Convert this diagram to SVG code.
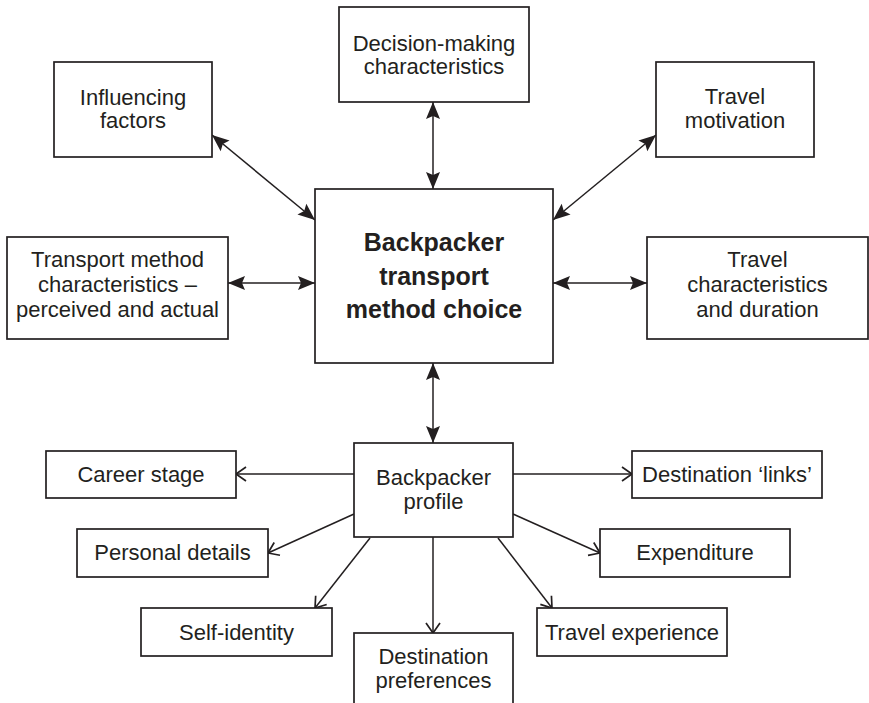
<svg xmlns="http://www.w3.org/2000/svg" width="869" height="703" viewBox="0 0 869 703">
<style>
rect.box{fill:#ffffff;stroke:#231f20;stroke-width:1.7}
text{font-family:"Liberation Sans",Arial,sans-serif;font-size:22px;fill:#231f20;text-anchor:middle}
text.bold{font-weight:bold;font-size:25px}
.conn line{stroke:#231f20;stroke-width:1.5;fill:none}
.bi{marker-start:url(#solid);marker-end:url(#solid)}
.one{marker-end:url(#open)}
</style>
<defs>
<marker id="solid" viewBox="-18 -8 20 16" refX="0" refY="0" markerWidth="20" markerHeight="16" markerUnits="userSpaceOnUse" orient="auto-start-reverse">
<path d="M-17,-7 L0,0 L-17,7 L-14,0 Z" fill="#231f20"/>
</marker>
<marker id="open" viewBox="-12 -9 14 18" refX="0" refY="0" markerWidth="14" markerHeight="18" markerUnits="userSpaceOnUse" orient="auto">
<path d="M-10,-7 L0,0 L-10,7" fill="none" stroke="#231f20" stroke-width="1.7"/>
</marker>
</defs>
<rect width="869" height="703" fill="#ffffff"/>
<g class="conn" id="connectors">
<line class="bi" x1="212" y1="135" x2="315" y2="220"/>
<line class="bi" x1="433" y1="102" x2="433" y2="189"/>
<line class="bi" x1="656" y1="135" x2="553" y2="220"/>
<line class="bi" x1="228" y1="283" x2="315" y2="283"/>
<line class="bi" x1="553" y1="283" x2="647" y2="283"/>
<line class="bi" x1="433" y1="363" x2="433" y2="443"/>
<line class="one" x1="354" y1="474" x2="236" y2="474"/>
<line class="one" x1="354" y1="514" x2="268" y2="553"/>
<line class="one" x1="370" y1="538" x2="315" y2="608"/>
<line class="one" x1="433" y1="537" x2="433" y2="633"/>
<line class="one" x1="513" y1="474" x2="632" y2="474"/>
<line class="one" x1="513" y1="514" x2="600" y2="553"/>
<line class="one" x1="498" y1="538" x2="552" y2="608"/>
</g>
<g id="influencing">
<rect class="box" x="54" y="62" width="158" height="95"/>
<text x="133" y="105">Influencing</text>
<text x="133" y="128">factors</text>
</g>
<g id="decision">
<rect class="box" x="339" y="7" width="190" height="95"/>
<text x="434" y="51">Decision-making</text>
<text x="434" y="74">characteristics</text>
</g>
<g id="motivation">
<rect class="box" x="656" y="62" width="158" height="95"/>
<text x="735" y="104">Travel</text>
<text x="735" y="128">motivation</text>
</g>
<g id="transport">
<rect class="box" x="7" y="237" width="221" height="102"/>
<text x="117.5" y="267">Transport method</text>
<text x="117.5" y="292">characteristics –</text>
<text x="117.5" y="317">perceived and actual</text>
</g>
<g id="center">
<rect class="box" x="315" y="189" width="238" height="174"/>
<text class="bold" x="434" y="251">Backpacker</text>
<text class="bold" x="434" y="285">transport</text>
<text class="bold" x="434" y="318">method choice</text>
</g>
<g id="travelchar">
<rect class="box" x="647" y="237" width="221" height="102"/>
<text x="757.5" y="267">Travel</text>
<text x="757.5" y="292">characteristics</text>
<text x="757.5" y="317">and duration</text>
</g>
<g id="profile">
<rect class="box" x="354" y="443" width="159" height="94"/>
<text x="433.5" y="485">Backpacker</text>
<text x="433.5" y="509">profile</text>
</g>
<g id="career">
<rect class="box" x="46" y="451" width="190" height="47"/>
<text x="141" y="482">Career stage</text>
</g>
<g id="personal">
<rect class="box" x="77" y="529" width="191" height="48"/>
<text x="172.5" y="560">Personal details</text>
</g>
<g id="selfidentity">
<rect class="box" x="141" y="608" width="191" height="48"/>
<text x="236.5" y="640">Self-identity</text>
</g>
<g id="destpref">
<rect class="box" x="354" y="633" width="159" height="90"/>
<text x="433.5" y="664">Destination</text>
<text x="433.5" y="688">preferences</text>
</g>
<g id="destlinks">
<rect class="box" x="632" y="451" width="190" height="47"/>
<text x="727" y="482">Destination ‘links’</text>
</g>
<g id="expenditure">
<rect class="box" x="600" y="529" width="190" height="48"/>
<text x="695" y="560">Expenditure</text>
</g>
<g id="travexp">
<rect class="box" x="537" y="608" width="190" height="48"/>
<text x="632" y="640">Travel experience</text>
</g>
</svg>
